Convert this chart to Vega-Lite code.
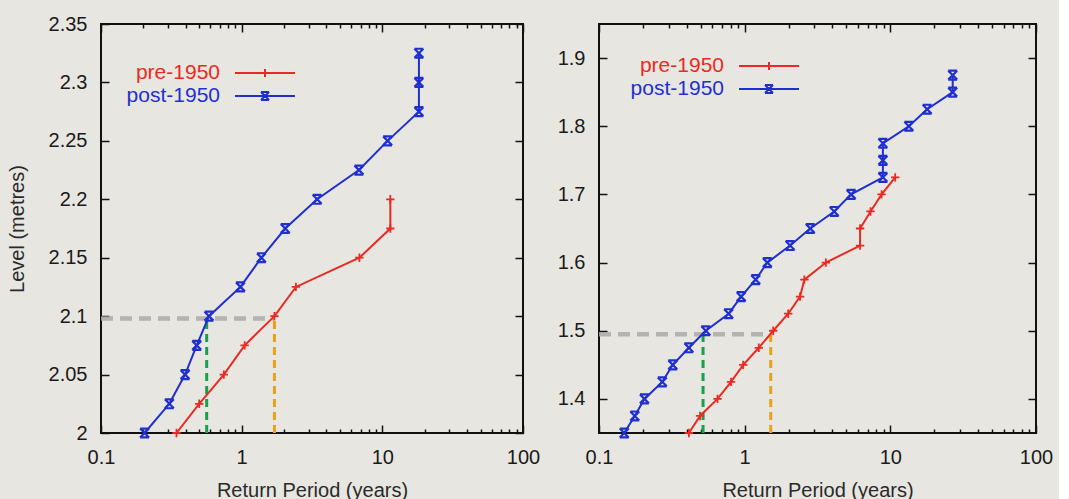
{
  "$schema": "https://vega.github.io/schema/vega-lite/v6.json",
  "background": "#e8e6e1",
  "padding": {"left": 6, "top": 13, "right": 5, "bottom": 0},
  "spacing": 15,
  "config": {
    "font": "Liberation Sans",
    "view": {"stroke": "#111111", "strokeWidth": 2},
    "axis": {"grid": false, "domain": false, "tickColor": "#111111", "tickWidth": 1.5, "labelColor": "#1a1a1a", "labelFontSize": 20, "titleFontSize": 20, "titleFontWeight": "normal", "titleColor": "#2a2a2a", "labelFlush": false, "labelOverlap": false, "labelBound": false}
  },
  "datasets": {
    "left": [
      {"series": "post-1950", "period": 0.204, "level": 2.0},
      {"series": "post-1950", "period": 0.306, "level": 2.025},
      {"series": "post-1950", "period": 0.396, "level": 2.05},
      {"series": "post-1950", "period": 0.479, "level": 2.075},
      {"series": "post-1950", "period": 0.586, "level": 2.1},
      {"series": "post-1950", "period": 0.98, "level": 2.125},
      {"series": "post-1950", "period": 1.38, "level": 2.15},
      {"series": "post-1950", "period": 2.04, "level": 2.175},
      {"series": "post-1950", "period": 3.44, "level": 2.2},
      {"series": "post-1950", "period": 6.82, "level": 2.225},
      {"series": "post-1950", "period": 10.9, "level": 2.25},
      {"series": "post-1950", "period": 18.2, "level": 2.275},
      {"series": "post-1950", "period": 18.2, "level": 2.3},
      {"series": "post-1950", "period": 18.2, "level": 2.325},
      {"series": "pre-1950", "period": 0.344, "level": 2.0},
      {"series": "pre-1950", "period": 0.499, "level": 2.025},
      {"series": "pre-1950", "period": 0.747, "level": 2.05},
      {"series": "pre-1950", "period": 1.05, "level": 2.075},
      {"series": "pre-1950", "period": 1.71, "level": 2.1},
      {"series": "pre-1950", "period": 2.43, "level": 2.125},
      {"series": "pre-1950", "period": 6.87, "level": 2.15},
      {"series": "pre-1950", "period": 11.4, "level": 2.175},
      {"series": "pre-1950", "period": 11.4, "level": 2.2}
    ],
    "leftRef": [
      {"kind": "threshold", "x": 0.1, "x2": 1.71, "y": 2.098, "y2": 2.098},
      {"kind": "post", "x": 0.564, "x2": 0.564, "y": 2.0, "y2": 2.098},
      {"kind": "pre", "x": 1.71, "x2": 1.71, "y": 2.0, "y2": 2.098}
    ],
    "right": [
      {"series": "post-1950", "period": 0.149, "level": 1.35},
      {"series": "post-1950", "period": 0.176, "level": 1.375},
      {"series": "post-1950", "period": 0.205, "level": 1.4},
      {"series": "post-1950", "period": 0.272, "level": 1.425},
      {"series": "post-1950", "period": 0.321, "level": 1.45},
      {"series": "post-1950", "period": 0.414, "level": 1.475},
      {"series": "post-1950", "period": 0.541, "level": 1.5},
      {"series": "post-1950", "period": 0.776, "level": 1.525},
      {"series": "post-1950", "period": 0.946, "level": 1.55},
      {"series": "post-1950", "period": 1.19, "level": 1.575},
      {"series": "post-1950", "period": 1.43, "level": 1.6},
      {"series": "post-1950", "period": 2.05, "level": 1.625},
      {"series": "post-1950", "period": 2.82, "level": 1.65},
      {"series": "post-1950", "period": 4.12, "level": 1.675},
      {"series": "post-1950", "period": 5.38, "level": 1.7},
      {"series": "post-1950", "period": 8.89, "level": 1.725},
      {"series": "post-1950", "period": 8.89, "level": 1.75},
      {"series": "post-1950", "period": 8.89, "level": 1.775},
      {"series": "post-1950", "period": 13.4, "level": 1.8},
      {"series": "post-1950", "period": 17.9, "level": 1.825},
      {"series": "post-1950", "period": 26.8, "level": 1.85},
      {"series": "post-1950", "period": 26.8, "level": 1.875},
      {"series": "pre-1950", "period": 0.414, "level": 1.35},
      {"series": "pre-1950", "period": 0.494, "level": 1.375},
      {"series": "pre-1950", "period": 0.651, "level": 1.4},
      {"series": "pre-1950", "period": 0.806, "level": 1.425},
      {"series": "pre-1950", "period": 0.977, "level": 1.45},
      {"series": "pre-1950", "period": 1.25, "level": 1.475},
      {"series": "pre-1950", "period": 1.57, "level": 1.5},
      {"series": "pre-1950", "period": 1.99, "level": 1.525},
      {"series": "pre-1950", "period": 2.4, "level": 1.55},
      {"series": "pre-1950", "period": 2.57, "level": 1.575},
      {"series": "pre-1950", "period": 3.61, "level": 1.6},
      {"series": "pre-1950", "period": 6.2, "level": 1.625},
      {"series": "pre-1950", "period": 6.2, "level": 1.65},
      {"series": "pre-1950", "period": 7.31, "level": 1.675},
      {"series": "pre-1950", "period": 8.71, "level": 1.7},
      {"series": "pre-1950", "period": 10.8, "level": 1.725}
    ],
    "rightRef": [
      {"kind": "threshold", "x": 0.1, "x2": 1.51, "y": 1.495, "y2": 1.495},
      {"kind": "post", "x": 0.518, "x2": 0.518, "y": 1.35, "y2": 1.495},
      {"kind": "pre", "x": 1.51, "x2": 1.51, "y": 1.35, "y2": 1.495}
    ]
  },
  "resolve": {"scale": {"color": "independent", "shape": "independent", "stroke": "independent"}, "legend": {"color": "independent", "shape": "independent"}},
  "hconcat": [
    {
      "width": 422,
      "height": 409,
      "resolve": {"axis": {"x": "independent", "y": "independent"}},
      "layer": [
        {
          "data": {"name": "leftRef"},
          "transform": [{"filter": "datum.kind === 'threshold'"}],
          "mark": {"type": "rule", "color": "#a9a9a9", "strokeWidth": 4.5, "strokeDash": [12, 7], "opacity": 0.85},
          "encoding": {
            "x": {"field": "x", "type": "quantitative", "scale": {"type": "log", "domain": [0.1, 100]},
              "axis": {"orient": "top", "title": null, "labels": false,
                "values": [0.1,0.2,0.3,0.4,0.5,0.6,0.7,0.8,0.9,1,2,3,4,5,6,7,8,9,10,20,30,40,50,60,70,80,90,100],
                "tickSize": {"condition": {"test": "abs(log(datum.value)/LN10 - round(log(datum.value)/LN10)) < 0.001", "value": -8}, "value": -4}}},
            "x2": {"field": "x2"},
            "y": {"field": "y", "type": "quantitative", "scale": {"domain": [2, 2.35], "zero": false, "nice": false},
              "axis": {"orient": "right", "title": null, "labels": false, "values": [2,2.05,2.1,2.15,2.2,2.25,2.3,2.35], "tickSize": -8}},
            "y2": {"field": "y2"}
          }
        },
        {
          "data": {"name": "leftRef"},
          "transform": [{"filter": "datum.kind !== 'threshold'"}],
          "mark": {"type": "rule", "strokeWidth": 3, "strokeDash": [8, 5]},
          "encoding": {
            "x": {"field": "x", "type": "quantitative", "axis": null},
            "x2": {"field": "x2"},
            "y": {"field": "y", "type": "quantitative", "axis": null},
            "y2": {"field": "y2"},
            "stroke": {"field": "kind", "type": "nominal", "scale": {"domain": ["post", "pre"], "range": ["#18a04c", "#e9a11a"]}, "legend": null}
          }
        },
        {
          "data": {"name": "left"},
          "mark": {"type": "line", "strokeWidth": 2},
          "encoding": {
            "x": {"field": "period", "type": "quantitative",
              "axis": {"orient": "bottom", "title": "Return Period (years)", "titlePadding": 9, "labelPadding": 22,
                "values": [0.1,0.2,0.3,0.4,0.5,0.6,0.7,0.8,0.9,1,2,3,4,5,6,7,8,9,10,20,30,40,50,60,70,80,90,100],
                "labelExpr": "abs(log(datum.value)/LN10 - round(log(datum.value)/LN10)) < 0.001 ? '' + datum.value : ''",
                "tickSize": {"condition": {"test": "abs(log(datum.value)/LN10 - round(log(datum.value)/LN10)) < 0.001", "value": -8}, "value": -4}}},
            "y": {"field": "level", "type": "quantitative",
              "axis": {"orient": "left", "title": "Level (metres)", "titlePadding": 21, "labelPadding": 22, "tickSize": -8,
                "values": [2,2.05,2.1,2.15,2.2,2.25,2.3,2.35], "labelExpr": "'' + datum.value"}},
            "color": {"field": "series", "type": "nominal", "scale": {"domain": ["pre-1950", "post-1950"], "range": ["#e82a22", "#1f2fd0"]},
              "legend": {"orient": "none", "legendX": 153, "legendY": 38, "title": null, "direction": "vertical",
                "symbolSize": 400, "symbolStrokeWidth": 2, "labelFontSize": 21, "labelAlign": "right", "labelOffset": -56, "rowPadding": 2,
                "encode": {"labels": {"update": {"fill": {"signal": "datum.value === 'pre-1950' ? '#e82a22' : '#1f2fd0'"}}}}}},
            "order": {"field": "level", "type": "quantitative"}
          }
        },
        {
          "data": {"name": "left"},
          "transform": [{"filter": "false"}],
          "mark": {"type": "point", "filled": false, "strokeWidth": 2},
          "encoding": {
            "x": {"field": "period", "type": "quantitative", "axis": null},
            "y": {"field": "level", "type": "quantitative", "axis": null},
            "color": {"field": "series", "type": "nominal"},
            "shape": {"field": "series", "type": "nominal", "scale": {"domain": ["pre-1950", "post-1950"], "range": ["M-3,0H3M0,-0.4V0.4", "M-3,0H3M-0.4,-0.4L0.4,0.4M-0.4,0.4L0.4,-0.4M-0.4,-0.4H0.4M-0.4,0.4H0.4"]}, "legend": null}
          }
        },
        {
          "data": {"name": "left"},
          "transform": [{"filter": "datum.series === 'pre-1950'"}],
          "mark": {"type": "point", "filled": false, "strokeWidth": 1.8, "size": 70, "opacity": 1, "color": "#e82a22", "shape": "M-1,0H1M0,-1V1"},
          "encoding": {
            "x": {"field": "period", "type": "quantitative", "axis": null},
            "y": {"field": "level", "type": "quantitative", "axis": null}
          }
        },
        {
          "data": {"name": "left"},
          "transform": [{"filter": "datum.series === 'post-1950'"}],
          "mark": {"type": "point", "filled": false, "strokeWidth": 2.2, "size": 80, "opacity": 1, "color": "#1f2fd0", "shape": "M-1,-1L1,1M-1,1L1,-1M-1,-1H1M-1,1H1"},
          "encoding": {
            "x": {"field": "period", "type": "quantitative", "axis": null},
            "y": {"field": "level", "type": "quantitative", "axis": null}
          }
        }
      ]
    },
    {
      "width": 437,
      "height": 409,
      "resolve": {"axis": {"x": "independent", "y": "independent"}},
      "layer": [
        {
          "data": {"name": "rightRef"},
          "transform": [{"filter": "datum.kind === 'threshold'"}],
          "mark": {"type": "rule", "color": "#a9a9a9", "strokeWidth": 4.5, "strokeDash": [12, 7], "opacity": 0.85},
          "encoding": {
            "x": {"field": "x", "type": "quantitative", "scale": {"type": "log", "domain": [0.1, 100]},
              "axis": {"orient": "top", "title": null, "labels": false,
                "values": [0.1,0.2,0.3,0.4,0.5,0.6,0.7,0.8,0.9,1,2,3,4,5,6,7,8,9,10,20,30,40,50,60,70,80,90,100],
                "tickSize": {"condition": {"test": "abs(log(datum.value)/LN10 - round(log(datum.value)/LN10)) < 0.001", "value": -8}, "value": -4}}},
            "x2": {"field": "x2"},
            "y": {"field": "y", "type": "quantitative", "scale": {"domain": [1.35, 1.95], "zero": false, "nice": false},
              "axis": {"orient": "right", "title": null, "labels": false, "values": [1.4,1.5,1.6,1.7,1.8,1.9], "tickSize": -8}},
            "y2": {"field": "y2"}
          }
        },
        {
          "data": {"name": "rightRef"},
          "transform": [{"filter": "datum.kind !== 'threshold'"}],
          "mark": {"type": "rule", "strokeWidth": 3, "strokeDash": [8, 5]},
          "encoding": {
            "x": {"field": "x", "type": "quantitative", "axis": null},
            "x2": {"field": "x2"},
            "y": {"field": "y", "type": "quantitative", "axis": null},
            "y2": {"field": "y2"},
            "stroke": {"field": "kind", "type": "nominal", "scale": {"domain": ["post", "pre"], "range": ["#18a04c", "#e9a11a"]}, "legend": null}
          }
        },
        {
          "data": {"name": "right"},
          "mark": {"type": "line", "strokeWidth": 2},
          "encoding": {
            "x": {"field": "period", "type": "quantitative",
              "axis": {"orient": "bottom", "title": "Return Period (years)", "titlePadding": 9, "labelPadding": 22,
                "values": [0.1,0.2,0.3,0.4,0.5,0.6,0.7,0.8,0.9,1,2,3,4,5,6,7,8,9,10,20,30,40,50,60,70,80,90,100],
                "labelExpr": "abs(log(datum.value)/LN10 - round(log(datum.value)/LN10)) < 0.001 ? '' + datum.value : ''",
                "tickSize": {"condition": {"test": "abs(log(datum.value)/LN10 - round(log(datum.value)/LN10)) < 0.001", "value": -8}, "value": -4}}},
            "y": {"field": "level", "type": "quantitative",
              "axis": {"orient": "left", "title": null, "labelPadding": 22, "tickSize": -8,
                "values": [1.4,1.5,1.6,1.7,1.8,1.9], "labelExpr": "'' + datum.value"}},
            "color": {"field": "series", "type": "nominal", "scale": {"domain": ["pre-1950", "post-1950"], "range": ["#e82a22", "#1f2fd0"]},
              "legend": {"orient": "none", "legendX": 159, "legendY": 31, "title": null, "direction": "vertical",
                "symbolSize": 400, "symbolStrokeWidth": 2, "labelFontSize": 21, "labelAlign": "right", "labelOffset": -56, "rowPadding": 2,
                "encode": {"labels": {"update": {"fill": {"signal": "datum.value === 'pre-1950' ? '#e82a22' : '#1f2fd0'"}}}}}},
            "order": {"field": "level", "type": "quantitative"}
          }
        },
        {
          "data": {"name": "right"},
          "transform": [{"filter": "false"}],
          "mark": {"type": "point", "filled": false, "strokeWidth": 2},
          "encoding": {
            "x": {"field": "period", "type": "quantitative", "axis": null},
            "y": {"field": "level", "type": "quantitative", "axis": null},
            "color": {"field": "series", "type": "nominal"},
            "shape": {"field": "series", "type": "nominal", "scale": {"domain": ["pre-1950", "post-1950"], "range": ["M-3,0H3M0,-0.4V0.4", "M-3,0H3M-0.4,-0.4L0.4,0.4M-0.4,0.4L0.4,-0.4M-0.4,-0.4H0.4M-0.4,0.4H0.4"]}, "legend": null}
          }
        },
        {
          "data": {"name": "right"},
          "transform": [{"filter": "datum.series === 'pre-1950'"}],
          "mark": {"type": "point", "filled": false, "strokeWidth": 1.8, "size": 70, "opacity": 1, "color": "#e82a22", "shape": "M-1,0H1M0,-1V1"},
          "encoding": {
            "x": {"field": "period", "type": "quantitative", "axis": null},
            "y": {"field": "level", "type": "quantitative", "axis": null}
          }
        },
        {
          "data": {"name": "right"},
          "transform": [{"filter": "datum.series === 'post-1950'"}],
          "mark": {"type": "point", "filled": false, "strokeWidth": 2.2, "size": 80, "opacity": 1, "color": "#1f2fd0", "shape": "M-1,-1L1,1M-1,1L1,-1M-1,-1H1M-1,1H1"},
          "encoding": {
            "x": {"field": "period", "type": "quantitative", "axis": null},
            "y": {"field": "level", "type": "quantitative", "axis": null}
          }
        }
      ]
    }
  ]
}
